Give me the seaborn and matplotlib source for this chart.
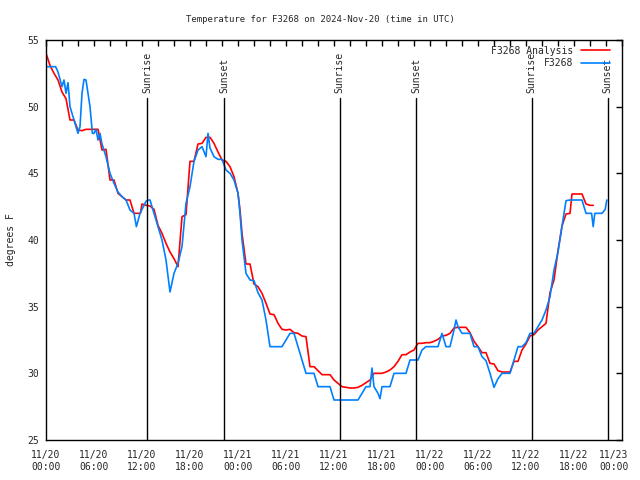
import pandas as pd
import numpy as np
import matplotlib
matplotlib.use("Agg")
import matplotlib.pyplot as plt
import matplotlib.dates as mdates
import matplotlib.transforms as mtransforms
import seaborn as sns

# hours since 2024-11-20 00:00 UTC
analysis_hours = [0, 0.5, 1, 1.5, 2, 2.5, 3, 3.5, 4, 4.5, 5, 5.5, 6, 6.5, 7, 7.5, 8, 8.5, 9, 9.5,
                  10, 10.5, 11, 11.5, 11.8, 12, 12.5, 13, 13.5, 14, 14.5, 15, 15.5, 16, 16.5, 17,
                  17.5, 18, 18.5, 19, 19.5, 20, 20.5, 21, 21.5, 22, 22.5, 23, 23.5, 24, 24.25,
                  24.5, 25, 25.5, 26, 26.5, 27, 27.5, 28, 28.5, 29, 29.5, 30, 30.5, 31, 31.5, 32,
                  32.5, 33, 33.5, 34, 34.5, 35, 35.5, 36, 36.5, 37, 37.5, 38, 38.5, 39, 39.5, 40,
                  40.5, 41, 41.5, 42, 42.5, 43, 43.5, 44, 44.5, 45, 45.5, 46, 46.5, 47, 47.5, 48,
                  48.5, 49, 49.5, 50, 50.5, 51, 51.5, 52, 52.5, 53, 53.5, 54, 54.5, 55, 55.5, 56,
                  56.5, 57, 57.5, 58, 58.5, 59, 59.5, 60, 60.5, 61, 61.5, 62, 62.5, 63, 63.5, 64,
                  64.5, 65, 65.5, 65.75, 66, 66.5, 67, 67.5, 68, 68.4]
analysis_temps = [54.0, 53.1, 52.5, 52.0, 51.1, 50.6, 49.0, 49.0, 48.25, 48.2, 48.3, 48.3, 48.3, 48.3,
                  46.75, 46.8, 44.5, 44.5, 43.5, 43.25, 43.0, 43.0, 42.0, 42.0, 42.0, 42.7, 42.6,
                  42.55, 42.3, 41.1, 40.5, 39.75, 39.1, 38.6, 38.0, 41.75, 41.9, 45.9, 45.9, 47.2,
                  47.25, 47.7, 47.7, 47.25, 46.6, 46.0, 45.9, 45.5, 44.75, 43.5, 42.25, 40.5, 38.2,
                  38.2, 36.7, 36.5, 36.0, 35.25, 34.45, 34.4, 33.75, 33.3, 33.25, 33.3, 33.05, 33.0,
                  32.8, 32.75, 30.5, 30.5, 30.2, 29.9, 29.9, 29.9, 29.5, 29.25, 29.0, 28.95, 28.9,
                  28.9, 28.95, 29.1, 29.3, 29.5, 30.0, 30.0, 30.0, 30.1, 30.25, 30.5, 30.9, 31.4,
                  31.4, 31.6, 31.75, 32.25, 32.25, 32.3, 32.3, 32.4, 32.55, 32.8, 32.85, 33.0, 33.4,
                  33.45, 33.45, 33.45, 33.05, 32.4, 32.0, 31.55, 31.55, 30.75, 30.7, 30.2, 30.1,
                  30.1, 30.1, 30.9, 30.9, 31.75, 32.2, 32.8, 32.9, 33.25, 33.5, 33.75, 36.05, 37.0,
                  39.2, 41.05, 41.95, 42.0, 43.45, 43.45, 43.45, 43.45, 42.7, 42.6, 42.6]

obs_hours = [0, 0.5, 1, 1.2, 1.5, 2, 2.25, 2.5, 2.75, 3, 3.5, 4, 4.25, 4.5, 4.75, 5, 5.5, 5.8, 6,
             6.25, 6.5, 6.75, 7, 7.5, 8, 8.5, 9, 9.5, 10, 10.5, 11, 11.3, 11.75, 12, 12.5, 12.75,
             13, 13.5, 14, 14.5, 15, 15.5, 16, 16.5, 17, 17.5, 18, 18.5, 19, 19.5, 20, 20.25,
             20.5, 21, 21.5, 22, 22.5, 23, 23.5, 24, 24.25, 24.5, 25, 25.5, 26, 26.5, 27, 27.5,
             28, 28.5, 29, 29.5, 30, 30.5, 31, 31.5, 32, 32.5, 33, 33.5, 34, 34.5, 35, 35.5, 36,
             37, 38, 39, 39.5, 40, 40.5, 40.75, 41, 41.5, 41.75, 42, 42.5, 43, 43.5, 44, 44.5,
             45, 45.5, 46, 46.5, 47, 47.5, 48, 48.5, 49, 49.5, 50, 50.5, 51, 51.25, 51.5, 52,
             52.5, 53, 53.5, 54, 54.5, 55, 55.5, 56, 56.5, 57, 57.5, 58, 58.5, 59, 59.5, 60,
             60.5, 61, 61.5, 62, 62.5, 63, 63.5, 64, 64.5, 65, 65.5, 66, 66.5, 67, 67.5, 68.2,
             68.4, 68.6, 69, 69.5, 69.9, 70.1]
obs_temps = [53.0, 53.0, 53.0, 53.0, 52.6, 51.5, 52.0, 51.0, 51.8, 50.0, 49.0, 48.0, 48.5, 51.0,
             52.05, 52.0, 50.0, 48.0, 48.0, 48.3, 47.5, 48.0, 47.2, 46.25, 45.0, 44.25, 43.6,
             43.25, 43.0, 42.25, 42.0, 41.0, 42.0, 42.3, 42.9, 43.0, 43.0, 42.0, 41.0, 40.0,
             38.5, 36.1, 37.5, 38.25, 39.5, 42.75, 44.0, 45.9, 46.75, 47.0, 46.25, 48.0, 46.9,
             46.25, 46.05, 46.05, 45.25, 45.0, 44.5, 43.5, 42.0, 40.0, 37.5, 37.0, 36.95, 36.05,
             35.5, 34.0, 32.0, 32.0, 32.0, 32.0, 32.5, 33.0, 33.0, 32.0, 31.0, 30.0, 30.0, 30.0,
             29.0, 29.0, 29.0, 29.0, 28.0, 28.0, 28.0, 28.0, 28.5, 29.0, 29.0, 30.4, 29.0, 28.5,
             28.1, 29.0, 29.0, 29.0, 30.0, 30.0, 30.0, 30.0, 31.0, 31.0, 31.0, 31.75, 32.0, 32.0,
             32.0, 32.0, 33.0, 32.0, 32.0, 33.25, 34.0, 33.5, 33.0, 33.0, 33.0, 32.0, 32.0,
             31.25, 30.95, 30.0, 28.95, 29.6, 30.0, 30.0, 30.0, 31.0, 32.0, 32.0, 32.3, 33.0,
             33.0, 33.5, 34.0, 34.75, 35.75, 37.75, 39.1, 41.0, 42.95, 43.0, 43.0, 43.0, 43.0,
             42.0, 42.0, 41.0, 42.0, 42.0, 42.0, 42.3, 43.0]

sunrise_hours = [12.67, 36.7, 60.7]
sunset_hours = [22.3, 46.3, 70.2]

start = pd.Timestamp("2024-11-20 00:00")
end = pd.Timestamp("2024-11-23 00:00")

analysis = pd.DataFrame({"time": start + pd.to_timedelta(analysis_hours, unit="h"),
                         "temp": analysis_temps})
obs = pd.DataFrame({"time": start + pd.to_timedelta(obs_hours, unit="h"),
                    "temp": obs_temps})

sns.set_style("white")
plt.rcParams["font.family"] = ["DejaVu Sans Mono"]
fs = 7

fig = plt.figure(figsize=(6.4, 4.8), dpi=100)
ax = fig.add_axes([46 / 640, 1 - 440 / 480, 576 / 640, 400 / 480])

sns.lineplot(data=analysis, x="time", y="temp", ax=ax, color="#ff0000", lw=1.2,
             label="F3268 Analysis", estimator=None, sort=False)
sns.lineplot(data=obs, x="time", y="temp", ax=ax, color="#0080ff", lw=1.2,
             label="F3268", estimator=None, sort=False)

# sunrise / sunset markers
for hrs, name in [(sunrise_hours, "Sunrise"), (sunset_hours, "Sunset")]:
    for h in hrs:
        t = start + pd.Timedelta(hours=h)
        ax.plot([t, t], [25, 50.65], color="black", lw=1.0)
        ax.text(t, 51.0, name, rotation=90, ha="center", va="bottom", fontsize=fs)

ax.set_xlim(start, end)
ax.set_ylim(25, 55)
ax.set_yticks(np.arange(25, 56, 5))

ax.xaxis.set_major_locator(mdates.HourLocator(byhour=[0, 6, 12, 18]))
ax.xaxis.set_major_formatter(mdates.DateFormatter("%m/%d\n%H:%M"))
ax.xaxis.set_minor_locator(mdates.HourLocator(byhour=range(0, 24, 2)))

ax.tick_params(axis="both", which="both", direction="in", top=True, right=True,
               length=4, width=1, color="black", labelsize=fs)
ax.tick_params(axis="x", which="major", pad=7)
ax.tick_params(axis="y", which="major", pad=5)
for lbl in ax.get_xticklabels():
    lbl.set_linespacing(1.3)

# gnuplot pulls the last date label in so it stays on the canvas
last = ax.xaxis.get_major_ticks()[-1].label1
last.set_transform(last.get_transform() +
                   mtransforms.ScaledTranslation(-8 / 100, 0, fig.dpi_scale_trans))

for s in ax.spines.values():
    s.set_color("black")
    s.set_linewidth(1.0)

ax.set_xlabel("")
ax.set_ylabel("degrees F", fontsize=fs, labelpad=8)
fig.text(0.5, 1 - 19 / 480, "Temperature for F3268 on 2024-Nov-20 (time in UTC)",
         ha="center", va="center", fontsize=6.5)

ax.legend(loc="upper right", bbox_to_anchor=(0.995, 1.008), frameon=False, markerfirst=False,
          fontsize=fs, handlelength=3.0, handletextpad=0.8, labelspacing=0.3)

fig.savefig("out.png", dpi=100)
